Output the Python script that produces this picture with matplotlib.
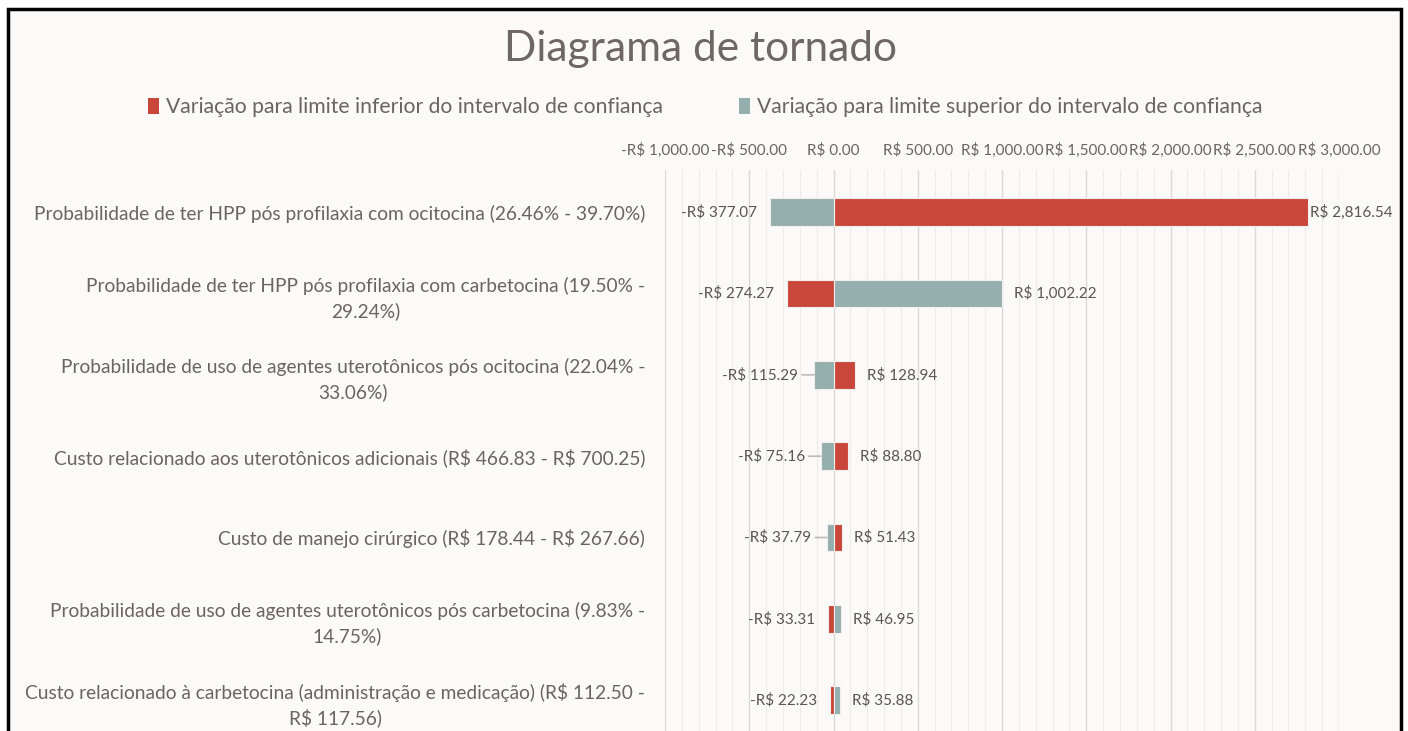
import numpy as np
import matplotlib.pyplot as plt
from matplotlib.patches import Rectangle, Patch
from matplotlib.ticker import FuncFormatter, MultipleLocator

plt.rcParams["text.parse_math"] = False
plt.rcParams["font.family"] = ["Lato", "DejaVu Sans"]

# parameters, top to bottom
categories = [
    "Probabilidade de ter HPP pós profilaxia com ocitocina (26.46% - 39.70%)",
    "Probabilidade de ter HPP pós profilaxia com carbetocina (19.50% -\n29.24%)",
    "Probabilidade de uso de agentes uterotônicos pós ocitocina (22.04% -\n33.06%)",
    "Custo relacionado aos uterotônicos adicionais (R$ 466.83 - R$ 700.25)",
    "Custo de manejo cirúrgico (R$ 178.44 - R$ 267.66)",
    "Probabilidade de uso de agentes uterotônicos pós carbetocina (9.83% -\n14.75%)",
    "Custo relacionado à carbetocina (administração e medicação) (R$ 112.50 -\nR$ 117.56)",
]
lower = [2816.54, -274.27, 128.94, 88.80, 51.43, -33.31, -22.23]
upper = [-377.07, 1002.22, -115.29, -75.16, -37.79, 46.95, 35.88]
series_names = ["Variação para limite inferior do intervalo de confiança",
                "Variação para limite superior do intervalo de confiança"]

RED = "#C8473A"
TEAL = "#95AEAE"
TXT = "#6B6461"
BG = "#FBFAF9"

W, H = 1408, 731
fig = plt.figure(figsize=(W / 100, H / 100), dpi=100, facecolor="white")

# chart frame
fig.patches.append(Rectangle((8 / W, -0.05), (1401 - 8) / W, 1.05 - 9 / H,
                             transform=fig.transFigure, facecolor=BG,
                             edgecolor="black", linewidth=2.5, zorder=-10))

ax = fig.add_axes([665 / W, 0, (1339 - 665) / W, 1 - 170 / H])
ax.set_facecolor("none")

y = np.arange(len(categories))
bh = 0.34
for vals, col in [(lower, RED), (upper, TEAL)]:
    ax.barh(y, vals, height=bh, color=col, edgecolor="#F2EEEC", linewidth=0.8, zorder=3)

ax.set_xlim(-1000, 3000)
ax.set_ylim(6.38, -0.52)

def money(v, pos=None):
    s = f"R$ {abs(v):,.2f}"
    return "-" + s if v < 0 else s

ax.xaxis.set_major_locator(MultipleLocator(500))
ax.xaxis.set_minor_locator(MultipleLocator(100))
ax.xaxis.set_major_formatter(FuncFormatter(money))
ax.xaxis.tick_top()
ax.tick_params(axis="x", which="both", length=0, pad=9, labelsize=11, labelcolor=TXT)
ax.grid(True, axis="x", which="major", color="#DCD9D7", linewidth=1.0, zorder=0)
ax.grid(True, axis="x", which="minor", color="#EEEBE9", linewidth=0.9, zorder=0)
for s in ax.spines.values():
    s.set_visible(False)

ax.set_yticks(y)
ax.set_yticklabels(categories, fontsize=13.8, color=TXT, linespacing=1.45)
for t in ax.get_yticklabels():
    t.set_multialignment("center")
ax.tick_params(axis="y", length=0, pad=14.4)

# data labels
leaders = {2, 3, 4}
for i in y:
    for v in (lower[i], upper[i]):
        if v >= 0:
            off = 2 if v > 2500 else 12  # Excel keeps the longest label inside the chart
            ax.annotate(money(v), (v, i), xytext=(off, 0), textcoords="offset pixels",
                        ha="left", va="center", fontsize=11, color="#5C5552", zorder=4,
                        annotation_clip=False)
        else:
            off = -16 if i in leaders else -13
            ax.annotate(money(v), (v, i), xytext=(off, 0), textcoords="offset pixels",
                        ha="right", va="center", fontsize=11, color="#5C5552", zorder=4)
            if i in leaders:
                ax.annotate("", (v, i), xytext=(-12, 0), textcoords="offset pixels",
                            arrowprops=dict(arrowstyle="-", color="#BFBBB8", lw=1.2,
                                            shrinkA=0, shrinkB=0))

fig.text(701 / W, 1 - 49 / H, "Diagrama de tornado", ha="center", va="center",
         fontsize=30.5, color="#6F6764")

handles = [Patch(facecolor=RED, label=series_names[0]),
           Patch(facecolor=TEAL, label=series_names[1])]
leg = fig.legend(handles=handles, loc="center", bbox_to_anchor=(705 / W, 1 - 107 / H),
                 ncol=2, frameon=False, fontsize=15.2, handlelength=0.55, handleheight=0.8,
                 handletextpad=0.3, columnspacing=3.6)
for t in leg.get_texts():
    t.set_color(TXT)

fig.savefig("out.png", dpi=100)
